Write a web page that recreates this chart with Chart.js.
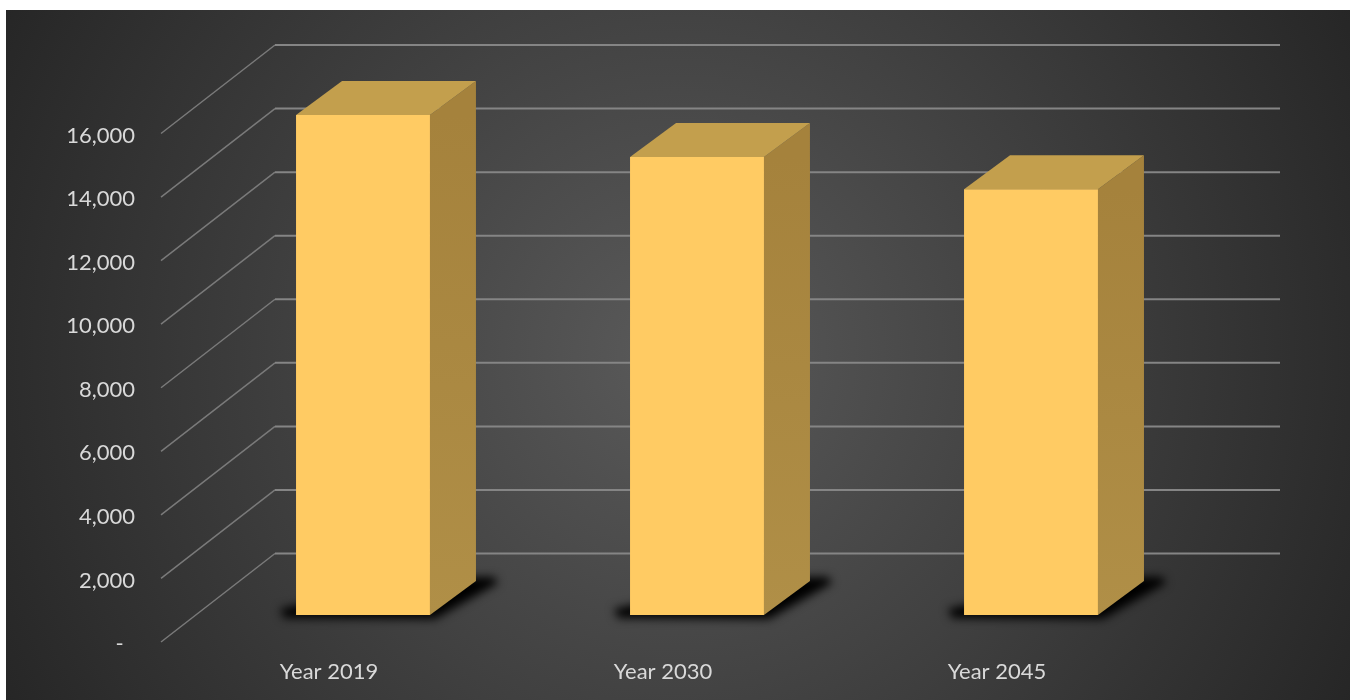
<!DOCTYPE html>
<html lang="en">
<head>
  <meta charset="UTF-8">
  <title>Year 2019 - 2045</title>
  <script src="https://cdn.jsdelivr.net/npm/chart.js"></script>
  <style>
    body {
      margin: 0;
      background: #fff;
      overflow: hidden;
    }
    canvas {
      position: absolute;
      left: 6px;
      top: 10px;
      background: radial-gradient(circle 760px at 50% 50%, #5a5a5a 0%, #262626 100%);
    }
  </style>
</head>
<body>
  <canvas id="grafico" width="1344" height="690"></canvas>

  <script>
    const categories = ['Year 2019', 'Year 2030', 'Year 2045'];
    const values = [15730, 14410, 13400];
    const axisMax = 16000;
    const axisStep = 2000;

    // fake 3D: bars sit in the middle of a box, walls are offset from the bar plane
    const barDepth = { x: 46, y: 34 };
    const wall = { frontX: -35, frontY: 27, backX: 79, backY: -61.5, backEnd: 82 };

    const fake3d = {
      id: 'fake3d',
      beforeDatasetsDraw(chart) {
        const ctx = chart.ctx;
        const area = chart.chartArea;
        const y = chart.scales.y;
        ctx.save();

        // walls
        y.ticks.forEach(t => {
          const p = y.getPixelForValue(t.value);
          ctx.lineWidth = 1.5;
          ctx.strokeStyle = '#7a7a7a';
          ctx.beginPath();
          ctx.moveTo(area.left + wall.frontX, p + wall.frontY);
          ctx.lineTo(area.left + wall.backX, p + wall.backY);
          ctx.stroke();
          ctx.lineWidth = 2;
          ctx.strokeStyle = '#858585';
          ctx.beginPath();
          ctx.moveTo(area.left + wall.backX, p + wall.backY);
          ctx.lineTo(area.right + wall.backEnd, p + wall.backY);
          ctx.stroke();
        });

        chart.getDatasetMeta(0).data.forEach(bar => {
          const l = bar.x - bar.width / 2;
          const r = bar.x + bar.width / 2;

          // shadow on the floor
          ctx.save();
          ctx.filter = 'blur(5px)';
          ctx.fillStyle = '#000';
          ctx.beginPath();
          ctx.moveTo(l - 16, bar.base - 6);
          ctx.lineTo(l - 12, bar.base + 3);
          ctx.lineTo(r + 5, bar.base + 4);
          ctx.lineTo(r + barDepth.x + 22, bar.base - barDepth.y + 2);
          ctx.lineTo(r + barDepth.x + 18, bar.base - barDepth.y - 4);
          ctx.lineTo(r, bar.base - barDepth.y - 4);
          ctx.closePath();
          ctx.fill();
          ctx.restore();

          // right side
          const side = ctx.createLinearGradient(0, bar.y, 0, bar.base);
          side.addColorStop(0, '#a5823c');
          side.addColorStop(1, '#b08f47');
          ctx.fillStyle = side;
          ctx.beginPath();
          ctx.moveTo(r, bar.y);
          ctx.lineTo(r + barDepth.x, bar.y - barDepth.y);
          ctx.lineTo(r + barDepth.x, bar.base - barDepth.y);
          ctx.lineTo(r, bar.base);
          ctx.closePath();
          ctx.fill();

          // top
          ctx.fillStyle = '#c39f4d';
          ctx.beginPath();
          ctx.moveTo(l, bar.y);
          ctx.lineTo(l + barDepth.x, bar.y - barDepth.y);
          ctx.lineTo(r + barDepth.x, bar.y - barDepth.y);
          ctx.lineTo(r, bar.y);
          ctx.closePath();
          ctx.fill();
        });

        ctx.restore();
      }
    };

    new Chart(document.getElementById('grafico'), {
      type: 'bar',
      data: {
        labels: categories,
        datasets: [{
          data: values,
          backgroundColor: '#ffcb63',
          categoryPercentage: 1,
          barPercentage: 0.401
        }]
      },
      options: {
        responsive: false,
        animation: false,
        layout: { padding: { top: 96.5, right: 152, bottom: 0, left: 0 } },
        plugins: { legend: { display: false }, tooltip: { enabled: false } },
        scales: {
          x: {
            grid: { display: false },
            border: { display: false },
            afterFit(scale) { scale.height = 85; },
            ticks: {
              color: '#d9d9d9',
              font: { family: 'Lato', size: 22 },
              padding: 36,
              labelOffset: -34,
              maxRotation: 0
            }
          },
          y: {
            min: 0,
            max: axisMax,
            grid: { display: false, drawTicks: false },
            border: { display: false },
            afterFit(scale) { scale.width = 190; },
            ticks: {
              stepSize: axisStep,
              color: '#d9d9d9',
              font: { family: 'Lato', size: 22 },
              padding: 61,
              labelOffset: 29,
              callback: v => v === 0 ? '-  ' : v.toLocaleString('en-US')
            }
          }
        }
      },
      plugins: [fake3d]
    });
  </script>
</body>
</html>
